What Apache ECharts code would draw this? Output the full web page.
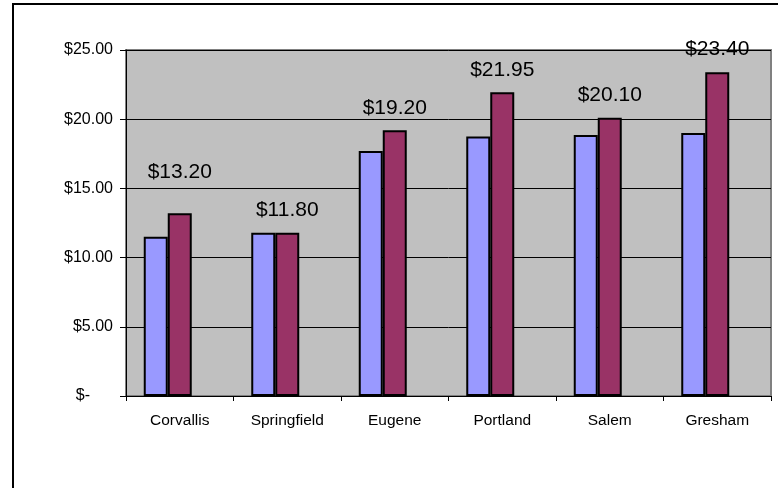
<!DOCTYPE html>
<html>
<head>
<meta charset="utf-8">
<script src="https://cdn.jsdelivr.net/npm/echarts@6/dist/echarts.min.js"></script>
<style>
  html, body { margin: 0; padding: 0; background: #fff; }
  #chart { width: 778px; height: 488px; }
</style>
</head>
<body>
<div id="chart"></div>
<script>
const cities = ['Corvallis', 'Springfield', 'Eugene', 'Portland', 'Salem', 'Gresham']
const firstPrices = [11.5, 11.8, 17.7, 18.75, 18.85, 19.0]
const secondPrices = [13.2, 11.8, 19.2, 21.95, 20.1, 23.4]
const thirdPrices = [] // empty third column, still takes its slot

const font = 'Liberation Sans, Arial, sans-serif'
const money = v => '$' + v.toFixed(2)

const chart = echarts.init(document.getElementById('chart'))

const option = {
    animation: false,
    graphic: [{
        type: 'rect',
        shape: { x: 13, y: 4, width: 900, height: 700 },
        style: { fill: 'none', stroke: '#000', lineWidth: 2 },
        z: 100
    }],
    grid: {
        left: 126, right: 7, top: 50, bottom: 92,
        show: true,
        backgroundColor: '#C0C0C0',
        borderColor: '#808080',
        borderWidth: 2
    },
    xAxis: {
        type: 'category',
        data: cities,
        axisLine: { lineStyle: { color: '#000', width: 1 } },
        axisTick: { show: true, length: 5, lineStyle: { color: '#000' } },
        axisLabel: { color: '#000', fontFamily: font, fontSize: 15.5, margin: 17 }
    },
    yAxis: {
        type: 'value',
        min: 0,
        max: 25,
        interval: 5,
        axisLine: { show: true, lineStyle: { color: '#000', width: 1 } },
        axisTick: { show: true, length: 6, lineStyle: { color: '#000' } },
        splitLine: { lineStyle: { color: '#000', width: 1 } },
        axisLabel: {
            color: '#000', fontFamily: font, fontSize: 16, margin: 13,
            formatter: v => v === 0 ? '{z|$-}' : money(v),
            rich: { z: { fontFamily: font, fontSize: 16, color: '#000', padding: [0, 23, 0, 0] } }
        }
    },
    series: [
        {
            type: 'bar',
            data: firstPrices,
            barWidth: 24,
            barGap: '0%',
            itemStyle: { color: '#9999FF', borderColor: '#000', borderWidth: 2 }
        },
        {
            type: 'bar',
            barWidth: 24,
            barGap: '0%',
            data: secondPrices.map((v, i) => ({
                value: v,
                // Corvallis label sits higher in the original
                label: i === 0 ? { distance: 31 } : undefined
            })),
            itemStyle: { color: '#993366', borderColor: '#000', borderWidth: 2 },
            label: {
                show: true,
                position: 'top',
                distance: 12,
                color: '#000',
                fontFamily: font,
                fontSize: 21,
                formatter: p => money(p.value)
            }
        },
        {
            type: 'bar',
            barWidth: 24,
            barGap: '0%',
            data: thirdPrices
        }
    ]
}

chart.setOption(option)
</script>
</body>
</html>
